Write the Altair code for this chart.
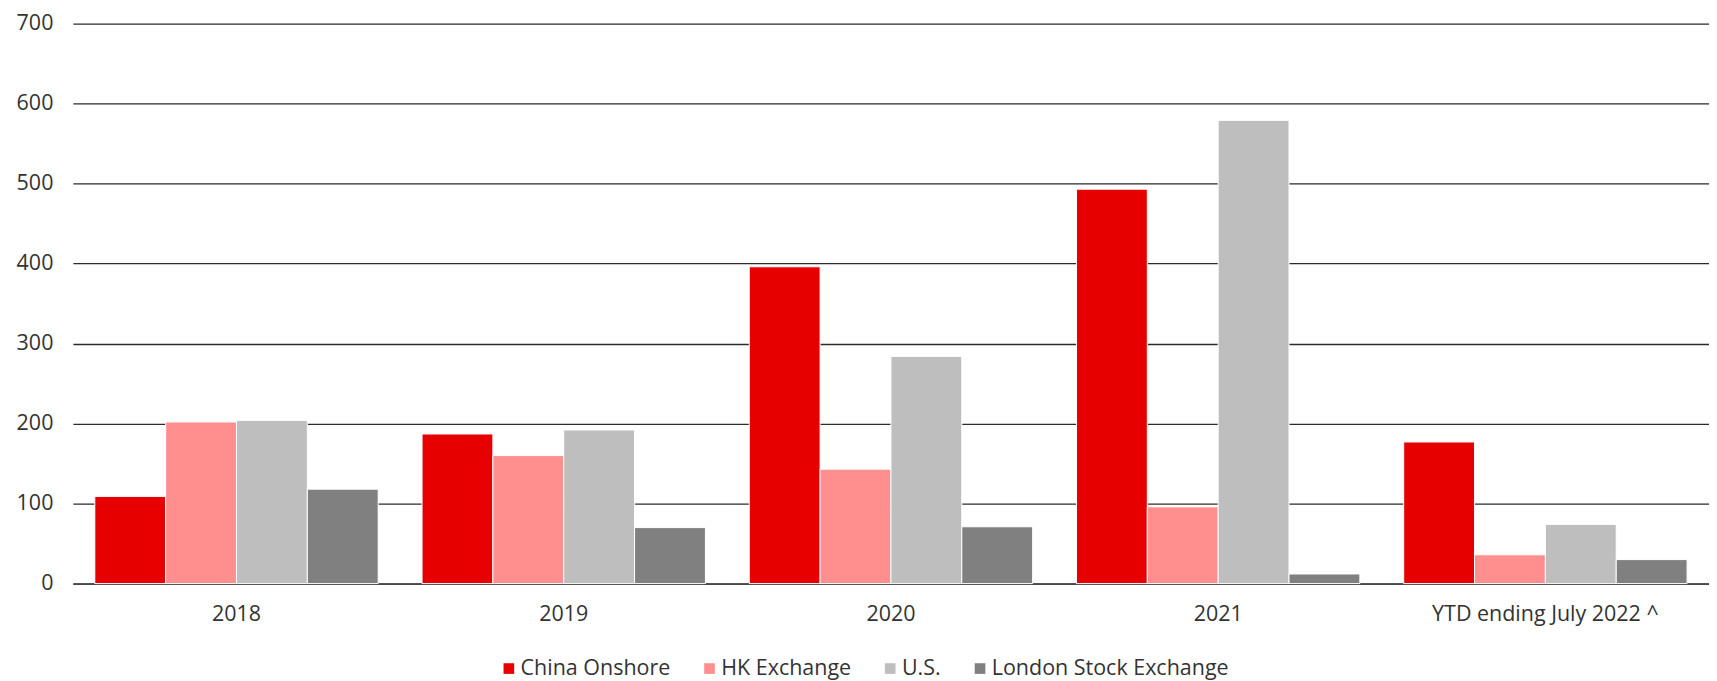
import altair as alt
import pandas as pd

years = ["2018", "2019", "2020", "2021", "YTD ending July 2022 ^"]
series = ["China Onshore", "HK Exchange", "U.S.", "London Stock Exchange"]
china = [109, 187, 396, 493, 177]
hk = [202, 160, 143, 96, 36]
us = [204, 192, 284, 579, 74]
london = [118, 70, 71, 12, 30]
colors = ["#E60000", "#FF8F8F", "#BEBEBE", "#808080"]
y_ticks = [0, 100, 200, 300, 400, 500, 600, 700]

rows = []
for name, vals in zip(series, [china, hk, us, london]):
    for period, v in zip(years, vals):
        rows.append({"period": period, "market": name, "value": v})
df = pd.DataFrame(rows)

font = "Open Sans"
txt = "#333333"
fs = 21.5

chart = alt.Chart(df).mark_bar(stroke="white", strokeWidth=1).encode(
    x=alt.X(
        "period:N", sort=years, title=None,
        scale=alt.Scale(paddingInner=0.134, paddingOuter=0.067),
        axis=alt.Axis(labelAngle=0, labelFontSize=fs, labelFont=font, labelColor=txt,
                      labelPadding=20, ticks=False, tickSize=0, domain=True,
                      domainColor="#404040", domainWidth=1.5, grid=False, labelLimit=400),
    ),
    xOffset=alt.XOffset("market:N", sort=series,
                        scale=alt.Scale(paddingInner=0, paddingOuter=0)),
    y=alt.Y(
        "value:Q", title=None,
        scale=alt.Scale(domain=[0, 700], nice=False),
        axis=alt.Axis(values=y_ticks, labelFontSize=fs, labelFont=font, labelColor=txt,
                      labelPadding=20, ticks=False, tickSize=0, domain=False,
                      grid=True, gridColor="#2b2b2b", gridWidth=1.3),
    ),
    color=alt.Color(
        "market:N", sort=series,
        scale=alt.Scale(domain=series, range=colors),
        legend=alt.Legend(orient="none", legendX=426, legendY=635, direction="horizontal",
                          title=None, symbolType="square", symbolSize=114,
                          symbolStrokeWidth=0, labelFontSize=fs, labelFont=font,
                          labelColor=txt, labelOffset=1, columnPadding=28, labelLimit=400),
    ),
).properties(
    width=1639, height=561,
    autosize=alt.AutoSizeParams(type="none"),
    padding={"left": 65, "top": 15, "right": 0, "bottom": 100},
).configure_view(stroke=None)

chart.save("out.html", embed_options={"renderer": "svg", "actions": False})
